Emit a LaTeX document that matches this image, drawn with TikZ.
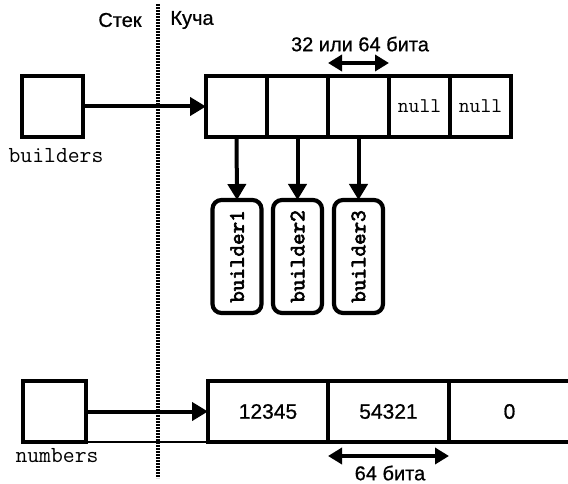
\documentclass[tikz,border=0pt]{standalone}
\usepackage{fontspec}
\setmainfont{Liberation Sans}[FakeBold=0.7]
\newfontfamily\objtt{lmmono10-regular.otf}[FakeBold=3]
\usetikzlibrary{arrows.meta}
\tikzset{
  boxcell/.style={draw, line width=3.4pt, minimum width=61pt, minimum height=61pt, inner sep=0pt, outer sep=0pt},
  varbox/.style={draw, line width=3.4pt, inner sep=0pt, outer sep=0pt},
  objbox/.style={draw, line width=4.2pt, rounded corners=9pt, minimum width=49pt, minimum height=113pt, inner sep=0pt, outer sep=0pt},
  ptr/.style={line width=4pt, -{Triangle[length=16pt,width=18pt]}},
  span/.style={line width=3.6pt, {Triangle[length=14pt,width=16pt]}-{Triangle[length=14pt,width=16pt]}},
  lbl/.style={font=\fontsize{20}{20}\selectfont, inner sep=0pt},
  mono/.style={font=\fontsize{23}{23}\selectfont\ttfamily, inner sep=0pt},
  num/.style={font=\fontsize{21}{21}\selectfont},
  objtext/.style={rotate=90, font=\fontsize{22}{22}\selectfont\objtt}
}
\begin{document}
\begin{tikzpicture}[x=1pt,y=-1pt]
\useasboundingbox (0,0) rectangle (568,484);
\clip (0,0) rectangle (568,484);
\fill[white] (0,0) rectangle (568,484);

% divider
\coordinate (dtop) at (158,4);
\coordinate (dbot) at (158,478);
\draw[line width=3.2pt, dash pattern=on 1.7pt off 1.3pt] (dtop) -- (dbot);
\node[lbl] (stek) at (120,20) {Стек};
\node[lbl] (kucha) at (192,20) {Куча};

% builders
\node[varbox, minimum width=61pt, minimum height=61pt] (builders) at (52.5,106.5) {};
\node[mono] (bl) at (56,156) {builders};

\node[boxcell] (c1) at (236.5,106.5) {};
\node[boxcell] (c2) at (297.5,106.5) {};
\node[boxcell] (c3) at (358.5,106.5) {};
\node[boxcell, font=\fontsize{21}{21}\selectfont\ttfamily] (c4) at (419.5,106.5) {null};
\node[boxcell, font=\fontsize{21}{21}\selectfont\ttfamily] (c5) at (480.5,106.5) {null};

\draw[ptr] (builders.east) -- (c1.west);

\draw[span] ([yshift=13pt]c3.north west) -- ([yshift=13pt]c3.north east);
\node[lbl] (w1) at (360,44) {32 или 64 бита};

\node[objbox] (b1) at (237,256.5) {};
\node[objbox] (b2) at (297.5,256.5) {};
\node[objbox] (b3) at (358.5,256.5) {};
\node[objtext] (t1) at (b1) {builder1};
\node[objtext] (t2) at (b2) {builder2};
\node[objtext] (t3) at (b3) {builder3};

\draw[ptr] (c1.south) -- (b1.north);
\draw[ptr] (c2.south) -- (b2.north);
\draw[ptr] (c3.south) -- (b3.north);

% numbers
\node[varbox, minimum width=63pt, minimum height=61pt] (numbers) at (54.5,411.5) {};
\node[mono] (nl) at (57,456) {numbers};
\coordinate (lineend) at (568,442);
\draw[line width=1.3pt] (numbers.south west) -- (lineend);

\node[boxcell, minimum width=120pt, num] (n1) at (268,411.5) {12345};
\node[boxcell, minimum width=121pt, num] (n2) at (388.5,411.5) {54321};
\node[boxcell, minimum width=121pt, num] (n3) at (509.5,411.5) {0};

\draw[ptr] (numbers.east) -- (n1.west);
\draw[span] ([yshift=-14pt]n2.south west) -- ([yshift=-14pt]n2.south east);
\node[lbl] (w2) at (390,473) {64 бита};
\end{tikzpicture}
\end{document}
